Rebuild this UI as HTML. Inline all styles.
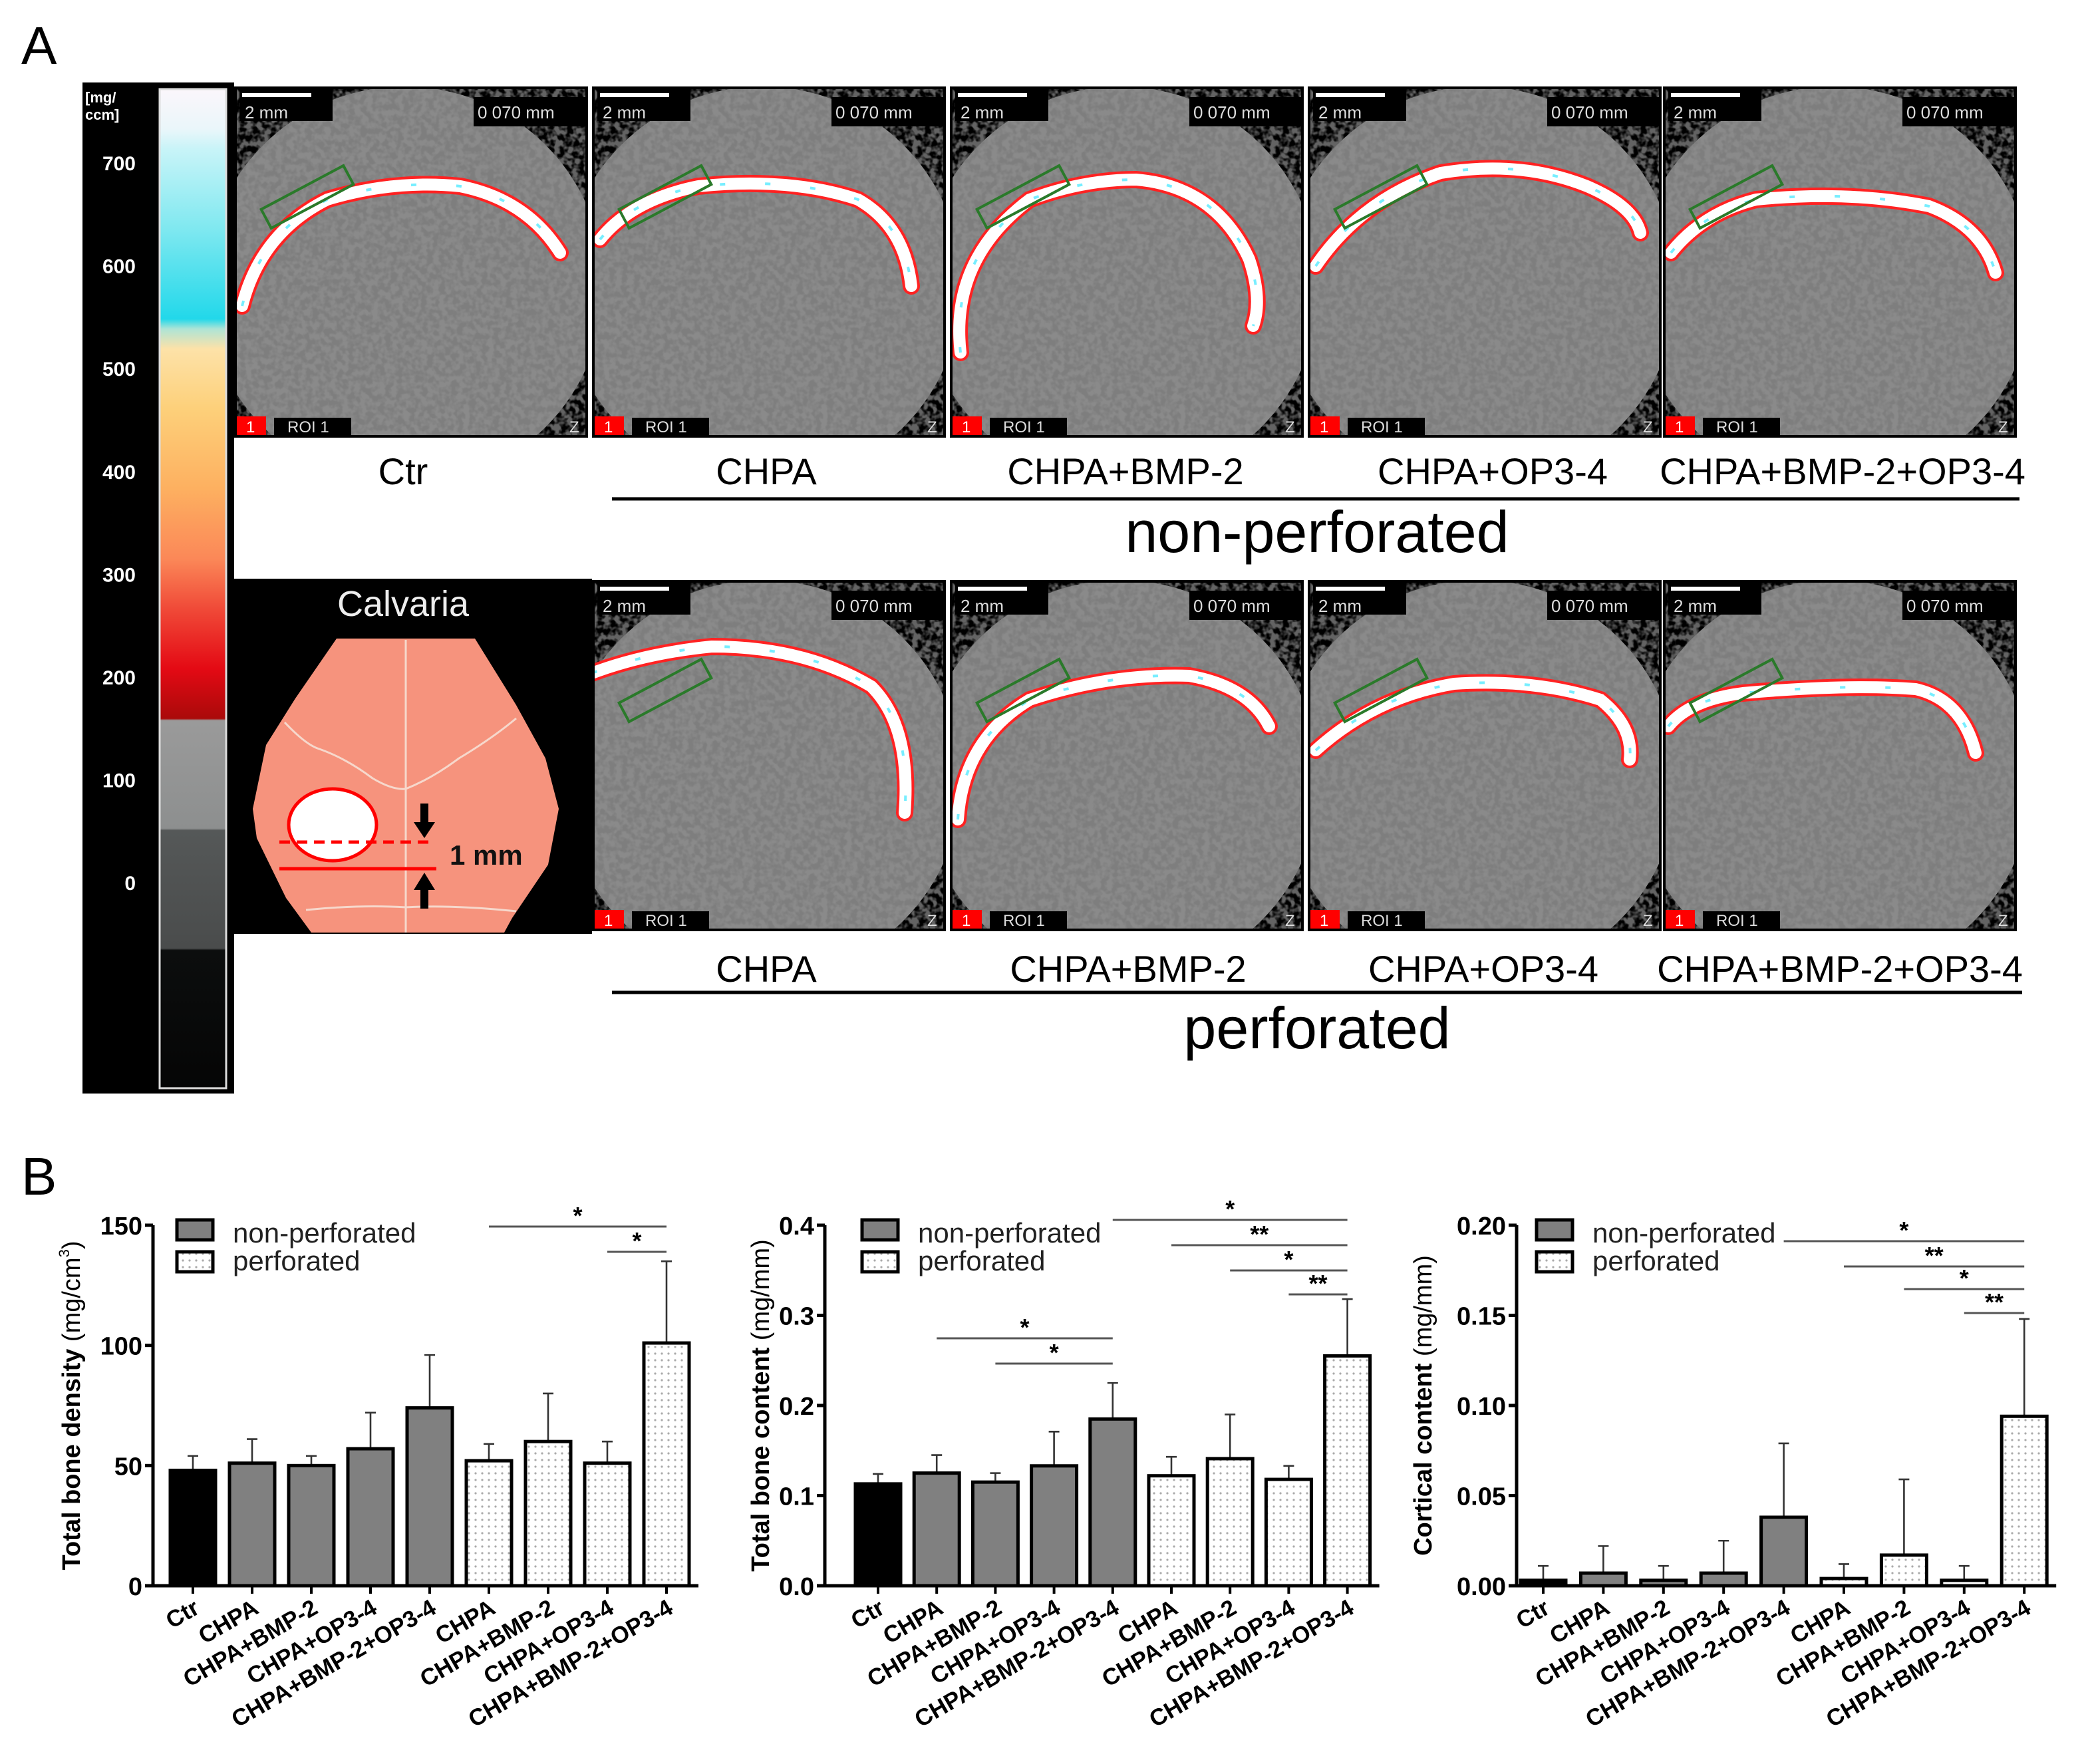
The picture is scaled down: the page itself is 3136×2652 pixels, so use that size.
<!DOCTYPE html>
<html><head><meta charset="utf-8"><style>
html,body{margin:0;padding:0;background:#fff}
svg{display:block}
text{font-family:"Liberation Sans",Arial,sans-serif}
</style></head><body>
<svg id="fig" width="3136" height="2652" viewBox="0 0 1568 1326" xmlns="http://www.w3.org/2000/svg">
<defs>
<filter id="noise" x="0" y="0" width="100%" height="100%">
<feTurbulence type="fractalNoise" baseFrequency="0.22" numOctaves="2" seed="3"/>
<feColorMatrix type="matrix" values="0 0 0 0 0.2  0 0 0 0 0.2  0 0 0 0 0.2  4 0 0 0 -1.5"/>
</filter>
<pattern id="dots" width="5" height="5" patternUnits="userSpaceOnUse">
<rect width="5" height="5" fill="#fff"/><circle cx="2.5" cy="2.5" r="0.8" fill="#aaa"/>
</pattern>
<linearGradient id="cb" x1="0" y1="0" x2="0" y2="1">
<stop offset="0" stop-color="#fbf6fb"/>
<stop offset="0.04" stop-color="#eaf6fa"/>
<stop offset="0.06" stop-color="#c8f4f8"/>
<stop offset="0.14" stop-color="#7fe8f0"/>
<stop offset="0.23" stop-color="#22d8ea"/>
<stop offset="0.24" stop-color="#aee4d6"/>
<stop offset="0.26" stop-color="#fde2a8"/>
<stop offset="0.32" stop-color="#fdd07a"/>
<stop offset="0.40" stop-color="#fdb060"/>
<stop offset="0.47" stop-color="#fb8858"/>
<stop offset="0.52" stop-color="#f04a38"/>
<stop offset="0.58" stop-color="#e40a14"/>
<stop offset="0.63" stop-color="#aa0a0a"/>
<stop offset="0.632" stop-color="#9a9a9a"/>
<stop offset="0.74" stop-color="#8d8f8f"/>
<stop offset="0.742" stop-color="#555858"/>
<stop offset="0.86" stop-color="#4a4c4c"/>
<stop offset="0.862" stop-color="#0c0e0e"/>
<stop offset="1" stop-color="#050505"/>
</linearGradient>
</defs>

<text x="16" y="48" font-size="40">A</text>
<text x="16" y="898" font-size="40">B</text>

<g>
<rect x="62" y="62" width="114" height="760" fill="#000"/>
<rect x="120" y="67" width="50" height="751" fill="url(#cb)" stroke="#ddd" stroke-width="1.5"/>
<text x="64" y="77" font-size="11" fill="#fff" font-weight="bold">[mg/</text>
<text x="64" y="90" font-size="11" fill="#fff" font-weight="bold">ccm]</text>
</g>
<g id="cblabels"></g>

<g id="ct"></g>

<g>
<rect x="175" y="435" width="270" height="267" fill="#000"/>
<text x="303" y="463" font-size="27" fill="#eee" text-anchor="middle">Calvaria</text>
<path d="M253 480 L357 480 L388 530 L410 570 L420 608 L412 650 L385 690 L379 701 L234 701 L215 675 L193 630 L190 608 L200 560 L222 525 Z" fill="#f6937d"/>
<path d="M305 481 L305 701" stroke="#f6d8cc" stroke-width="1.5"/>
<path d="M214 543 Q230 560 240 563 Q260 570 280 585 Q295 594 305 593 Q325 585 345 570 Q370 555 388 540" fill="none" stroke="#f6d8cc" stroke-width="1.5"/>
<path d="M230 684 Q270 680 305 682 Q340 680 388 685" fill="none" stroke="#f6d8cc" stroke-width="1.5"/>
<ellipse cx="250" cy="620" rx="33" ry="27" fill="#fff" stroke="#f00" stroke-width="2.5"/>
<path d="M210 633 L326 633" stroke="#f00" stroke-width="2.5" stroke-dasharray="8 5"/>
<path d="M210 653 L328 653" stroke="#f00" stroke-width="2.5"/>
<path d="M316 604 L322 604 L322 618 L327 618 L319 630 L311 618 L316 618 Z" fill="#000"/>
<path d="M316 683 L322 683 L322 669 L327 669 L319 656 L311 669 L316 669 Z" fill="#000"/>
<text x="338" y="650" font-size="21" font-weight="bold" fill="#111">1 mm</text>
</g>

<g font-size="28" text-anchor="middle" fill="#000">
<text x="303" y="364">Ctr</text>
<text x="576" y="364">CHPA</text>
<text x="846" y="364">CHPA+BMP-2</text>
<text x="1122" y="364">CHPA+OP3-4</text>
<text x="1385" y="364">CHPA+BMP-2+OP3-4</text>
<path d="M460 375 L1518 375" stroke="#000" stroke-width="2.5"/>
<text x="990" y="415" font-size="44">non-perforated</text>
<text x="576" y="738">CHPA</text>
<text x="848" y="738">CHPA+BMP-2</text>
<text x="1115" y="738">CHPA+OP3-4</text>
<text x="1383" y="738">CHPA+BMP-2+OP3-4</text>
<path d="M460 746 L1520 746" stroke="#000" stroke-width="2.5"/>
<text x="990" y="788" font-size="44">perforated</text>
</g>

<g id="charts"></g>
</svg>
<script>
const NS="http://www.w3.org/2000/svg";
function el(tag,attrs,parent,txt){const e=document.createElementNS(NS,tag);for(const k in attrs)e.setAttribute(k,attrs[k]);if(txt!==undefined)e.textContent=txt;parent.appendChild(e);return e;}

const cbTicks=["700","600","500","400","300","200","100","0"];
const cbg=document.getElementById('cblabels');
cbTicks.forEach((t,i)=>{const e=el('text',{x:102,y:128+i*77.3,'font-size':15,fill:'#fff','font-weight':'bold','text-anchor':'end'},cbg,t);

});

const ctg=document.getElementById('ct');
const panelX=[176,445,714,983,1250];
const arcs1=[
"M6 165 Q20 110 70 85 Q120 70 170 75 Q220 85 245 125",
"M6 115 Q30 85 80 75 Q150 68 200 85 Q235 105 240 150",
"M8 200 Q0 130 60 85 Q100 70 140 70 Q200 75 225 130 Q235 160 228 180",
"M6 135 Q40 85 100 65 Q160 55 210 75 Q245 90 250 110",
"M6 125 Q30 95 70 85 Q140 78 200 90 Q240 105 250 140"];
const arcs2=[
"M0 70 Q40 55 90 50 Q160 50 210 80 Q240 110 235 175",
"M6 180 Q10 120 60 90 Q120 70 180 72 Q225 80 240 110",
"M6 128 Q50 88 110 78 Q170 74 220 90 Q245 110 242 135",
"M4 110 Q20 90 60 85 Q140 78 190 82 Q225 90 235 130"];
function ctPanel(x,y,d,rot){
 const g=el('g',{transform:`translate(${x},${y})`},ctg);
 
 
 el('rect',{x:0,y:0,width:266,height:264,fill:'#000'},g);
 const cid='c'+x+'_'+y;
 const cp=el('clipPath',{id:cid},g);
 el('rect',{x:2,y:2,width:262,height:260},cp);
 const inner=el('g',{'clip-path':`url(#${cid})`},g);
 el('ellipse',{cx:128,cy:150,rx:150,ry:150,fill:'#8a8a8a'},inner);
 el('ellipse',{cx:128,cy:150,rx:150,ry:150,fill:'#000',filter:'url(#noise)',opacity:0.8},inner);
 el('path',{d:d,fill:'none',stroke:'#f22',"stroke-width":13,"stroke-linecap":"round"},inner);
 el('path',{d:d,fill:'none',stroke:'#fff',"stroke-width":9,"stroke-linecap":"round"},inner);
 el('path',{d:d,fill:'none',stroke:'#7ef',"stroke-width":2,"stroke-dasharray":"4 30"},inner);
 el('rect',{x:20,y:rot?75:70,width:70,height:16,fill:'none',stroke:'#2a7a2a','stroke-width':2,transform:rot?`rotate(-28 55 83)`:''},inner);
 el('rect',{x:4,y:2,width:70,height:24,fill:'#000'},g);
 el('rect',{x:180,y:8,width:86,height:22,fill:'#000'},g);
 el('rect',{x:6,y:5,width:52,height:3,fill:'#fff'},g);
 el('text',{x:8,y:24,'font-size':13,fill:'#ddd'},g,'2  mm');
 el('text',{x:183,y:24,'font-size':13,fill:'#ddd'},g,'0  070  mm');
 el('rect',{x:2,y:248,width:22,height:14,fill:'#f00'},g);
 el('text',{x:9,y:260,'font-size':12,fill:'#fff'},g,'1');
 el('rect',{x:30,y:249,width:58,height:13,fill:'#000'},g);
 el('text',{x:40,y:260,'font-size':12,fill:'#ddd'},g,'ROI 1');
 el('text',{x:252,y:260,'font-size':12,fill:'#ddd'},g,'Z');
}
panelX.forEach((x,i)=>ctPanel(x,65,arcs1[i],true));
panelX.slice(1).forEach((x,i)=>ctPanel(x,436,arcs2[i],true));

const categories=["Ctr","CHPA","CHPA+BMP-2","CHPA+OP3-4","CHPA+BMP-2+OP3-4","CHPA","CHPA+BMP-2","CHPA+OP3-4","CHPA+BMP-2+OP3-4"];
const groups=["ctr","non","non","non","non","perf","perf","perf","perf"];
const densityValues=[48,51,50,57,74,52,60,51,101];
const densityErrors=[6,10,4,15,22,7,20,9,34];
const densityTicks=["0","50","100","150"];
const contentValues=[0.113,0.125,0.115,0.133,0.185,0.122,0.141,0.118,0.255];
const contentErrors=[0.011,0.02,0.01,0.038,0.04,0.021,0.049,0.015,0.063];
const contentTicks=["0.0","0.1","0.2","0.3","0.4"];
const corticalValues=[0.003,0.007,0.003,0.007,0.038,0.004,0.017,0.003,0.094];
const corticalErrors=[0.008,0.015,0.008,0.018,0.041,0.008,0.042,0.008,0.054];
const corticalTicks=["0.00","0.05","0.10","0.15","0.20"];
const densitySig=[[5,8,"*"],[7,8,"*"]];
const contentSig=[[1,4,"*"],[2,4,"*"],[4,8,"*"],[5,8,"**"],[6,8,"*"],[7,8,"**"]];
const corticalSig=[[4,8,"*"],[5,8,"**"],[6,8,"*"],[7,8,"**"]];

function chart(cfg){
 const root=el('g',{},document.getElementById('charts'));
 
 
 const y0=1192,yTop=921,max=cfg.max;
 const yS=v=>y0-(v/max)*(y0-yTop);
 const xS=i=>cfg.x0+i*cfg.step;
 const bw=34;
 cfg.values.forEach((v,i)=>{
  const cx=xS(i),top=yS(v),et=yS(v+cfg.errors[i]);
  const eb=el('path',{d:`M${cx} ${top} L${cx} ${et} M${cx-4} ${et} L${cx+4} ${et}`,stroke:'#333','stroke-width':1.3},root);
  
  
  const fill=groups[i]==='ctr'?'#000':groups[i]==='non'?'#808080':'url(#dots)';
  const r=el('rect',{x:cx-bw/2,y:top,width:bw,height:y0-top,fill:fill,stroke:'#000','stroke-width':2.5},root);
  
  
  el('path',{d:`M${cx} ${y0} L${cx} ${y0+6}`,stroke:'#000','stroke-width':2},root);
  const t=el('text',{x:cx+6,y:y0+20,'font-size':17.5,'font-weight':'bold','text-anchor':'end',transform:`rotate(-30 ${cx+6} ${y0+20})`},root,categories[i]);
  
  
 });
 const ax=el('path',{d:`M${cfg.ax} ${yTop} L${cfg.ax} ${y0} L${xS(8)+24} ${y0}`,fill:'none',stroke:'#000','stroke-width':2.5},root);
 
 
 cfg.ticks.forEach((t,i)=>{
  const v=i*max/(cfg.ticks.length-1),y=yS(v);
  el('path',{d:`M${cfg.ax-6} ${y} L${cfg.ax} ${y}`,stroke:'#000','stroke-width':2.5},root);
  const tl=el('text',{x:cfg.ax-8,y:y+7,'font-size':19,'font-weight':'bold','text-anchor':'end'},root,t);
  
  
 });
 const yt=el('text',{x:cfg.titleX,y:(y0+yTop)/2,'font-size':cfg.titleSize,'text-anchor':'middle',transform:`rotate(-90 ${cfg.titleX} ${(y0+yTop)/2})`},root);
 
 
 el('tspan',{'font-weight':'bold'},yt,cfg.title);
 el('tspan',{},yt,' '+cfg.unit);
 if(cfg.sup){el('tspan',{'font-size':11,dy:-8},yt,cfg.sup);el('tspan',{dy:8},yt,')');}
 const lg=el('g',{},root);
 
 
 el('rect',{x:cfg.lx,y:917,width:27,height:15,fill:'#808080',stroke:'#000','stroke-width':2.5},lg);
 el('text',{x:cfg.lx+42,y:934,'font-size':21,fill:'#222'},lg,'non-perforated');
 el('rect',{x:cfg.lx,y:941,width:27,height:15,fill:'url(#dots)',stroke:'#000','stroke-width':2.5},lg);
 el('text',{x:cfg.lx+42,y:955,'font-size':21,fill:'#222'},lg,'perforated');
 cfg.sig.forEach((s,k)=>{
  const y=cfg.sigY[k];
  const l=el('path',{d:`M${xS(s[0])} ${y} L${xS(s[1])} ${y}`,stroke:'#555','stroke-width':1.5},root);
  
  
  el('text',{x:(xS(s[0])+xS(s[1]))/2,y:y-2,'font-size':18,'text-anchor':'middle','font-weight':'bold'},root,s[2]);
 });
}
chart({name:'chart-total-bone-density',values:densityValues,errors:densityErrors,ticks:densityTicks,max:150,x0:145,step:44.5,ax:115,titleX:60,titleSize:19,title:'Total bone density',unit:'(mg/cm',sup:'3',lx:133,sig:densitySig,sigY:[922,941]});
chart({name:'chart-total-bone-content',values:contentValues,errors:contentErrors,ticks:contentTicks,max:0.4,x0:660,step:44.1,ax:620,titleX:578,titleSize:19,title:'Total bone content',unit:'(mg/mm)',lx:648,sig:contentSig,sigY:[1006,1025,917,936,955,973]});
chart({name:'chart-cortical-content',values:corticalValues,errors:corticalErrors,ticks:corticalTicks,max:0.2,x0:1160,step:45.2,ax:1140,titleX:1076,titleSize:19,title:'Cortical content',unit:'(mg/mm)',lx:1155,sig:corticalSig,sigY:[933,952,969,987]});
</script>
</body></html>
